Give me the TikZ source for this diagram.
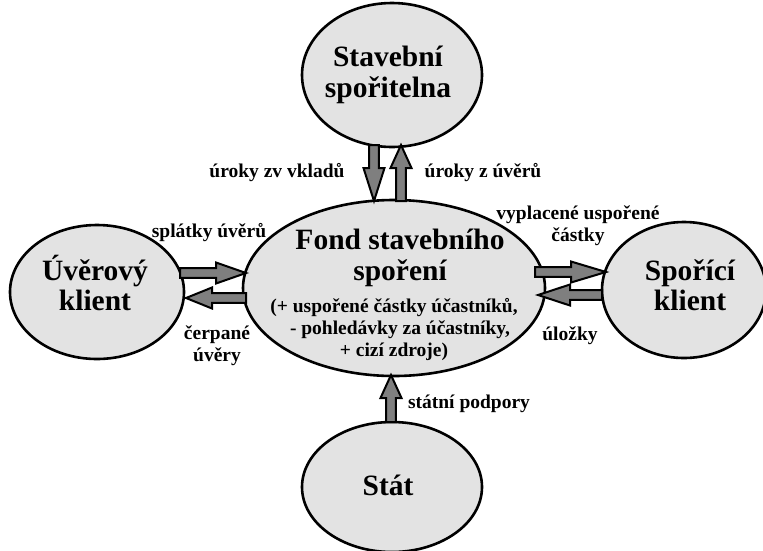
\documentclass[tikz,border=0pt]{standalone}
\usepackage{fontspec}
\setmainfont{Liberation Serif}
\usetikzlibrary{shapes.geometric,calc}
\definecolor{ellfill}{HTML}{E3E3E3}
\definecolor{arrfill}{HTML}{7F7F7F}
\newcommand\bigtxt{\fontsize{29.5}{30.5}\selectfont\bfseries}
\newcommand\smalltxt{\fontsize{19.5}{22}\selectfont\bfseries}
\newcommand\blockarrow[3][28]{%
  \path let \p1=(#2), \p2=(#3), \n1={atan2(\y2-\y1,\x2-\x1)}, \n2={veclen(\x2-\x1,\y2-\y1)} in
    \pgfextra{\pgfmathsetmacro\tmpa{\n1}\global\let\baang\tmpa
      \pgfmathsetmacro\tmpb{\n2}\global\let\balen\tmpb
      \pgfmathsetmacro\tmpx{\x1}\global\let\bax\tmpx
      \pgfmathsetmacro\tmpy{\y1}\global\let\bay\tmpy};
  \draw[blockar, shift={(\bax pt,\bay pt)}, rotate=\baang]
    (0pt,-4.8pt) -- ({\balen pt-#1pt},-4.8pt) -- ({\balen pt-#1pt},-10.5pt) -- (\balen pt,0pt)
    -- ({\balen pt-#1pt},10.5pt) -- ({\balen pt-#1pt},4.8pt) -- (0pt,4.8pt) -- cycle;
}
\begin{document}
\begin{tikzpicture}[x=1pt,y=-1pt,
  ell/.style={ellipse, draw=black, line width=2.6pt, fill=ellfill, inner sep=0pt},
  bigl/.style={font=\bigtxt, align=center, inner sep=0pt},
  smalll/.style={font=\smalltxt, align=center, inner sep=0pt},
  blockar/.style={draw=black, fill=arrfill, line width=2pt, line join=miter}]
\useasboundingbox (0,0) rectangle (763,550);
% ellipses
\node[ell, minimum width=180pt, minimum height=144pt] (sp) at (392,75) {};
\node[ell, minimum width=174pt, minimum height=134pt] (uver) at (97,292) {};
\node[ell, minimum width=302pt, minimum height=176pt] (fond) at (394,288) {};
\node[ell, minimum width=164pt, minimum height=136pt] (spor) at (684,290) {};
\node[ell, minimum width=180pt, minimum height=130pt] (stat) at (392,487) {};
% texts in ellipses
\node[bigl] (sptxt) at (388,75) {Stavební\\spořitelna};
\node[bigl] (uvertxt) at (95,283) {Úvěrový\\klient};
\node[bigl] (sportxt) at (690,285) {Spořící\\klient};
\node[bigl] (stattxt) at (388,485) {Stát};
\node[bigl] (fondtitle) at (400,258) {Fond stavebního\\spoření};
\node[smalll] (fondnote) at (394,330) {(+ uspořené částky účastníků,\\\hspace*{12pt}- pohledávky za účastníky,\\+ cizí zdroje)};
% arrows
\blockarrow[33]{$(sp.center)+(-18,70)$}{$(fond.center)+(-20,-87)$}
\blockarrow[23]{$(fond.center)+(7,-87)$}{$(sp.center)+(9,70)$}
\blockarrow[30]{$(uver.center)+(83,-19)$}{$(fond.center)+(-148,-15)$}
\blockarrow[26]{$(fond.center)+(-148,10)$}{$(uver.center)+(89,6)$}
\blockarrow[35]{$(fond.center)+(141,-16)$}{$(spor.center)+(-78,-18)$}
\blockarrow[32]{$(spor.center)+(-82,5)$}{$(fond.center)+(144,7)$}
\blockarrow[23]{$(stat.center)+(-1,-65)$}{$(fond.center)+(-3,87)$}
% labels
\node[smalll, anchor=base] (l1) at (277,177) {úroky zv vkladů};
\node[smalll, anchor=base] (l2) at (483,177) {úroky z úvěrů};
\node[smalll, anchor=base] (l3) at (209,237) {splátky úvěrů};
\node[smalll] (l4) at (217,346) {čerpané\\úvěry};
\node[smalll] (l5) at (578,226) {vyplacené uspořené\\částky};
\node[smalll, anchor=base] (l6) at (570,340) {úložky};
\node[smalll, anchor=base] (l7) at (469,408) {státní podpory};
\end{tikzpicture}
\end{document}
